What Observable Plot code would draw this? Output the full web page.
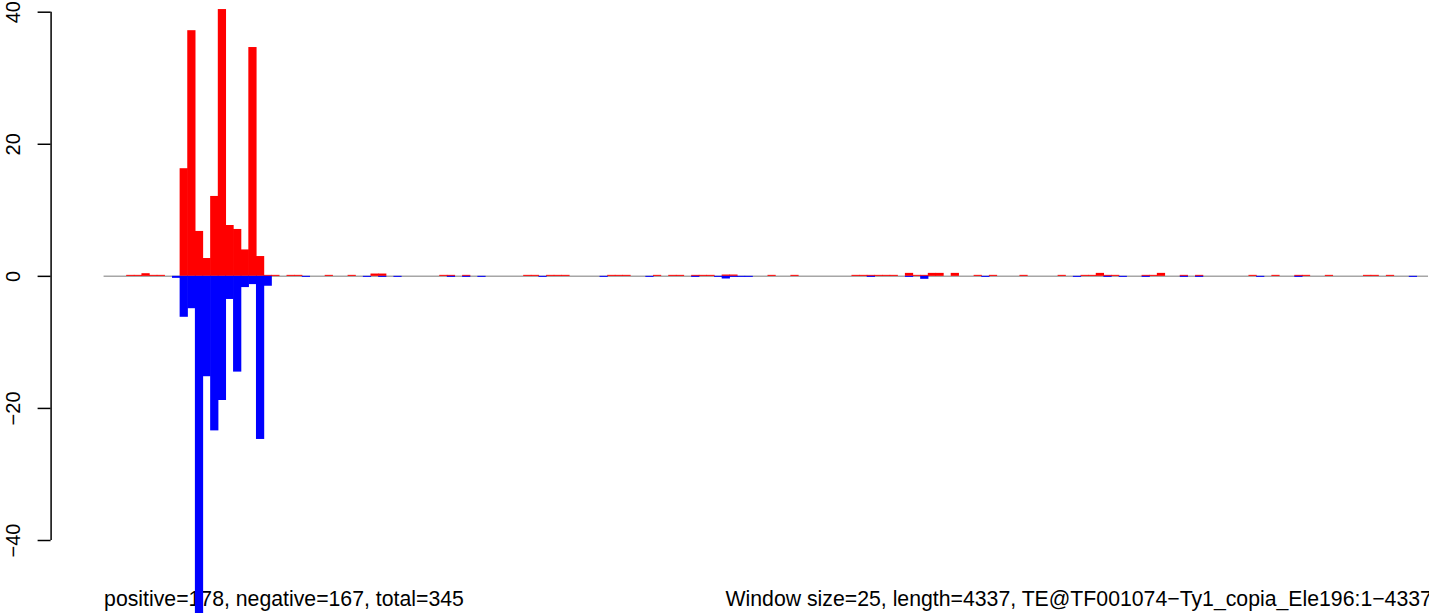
<!DOCTYPE html>
<html>
<head>
<meta charset="utf-8">
<script src="https://cdn.jsdelivr.net/npm/d3@7"></script>
<script src="https://cdn.jsdelivr.net/npm/@observablehq/plot@0.6"></script>
<style>
  html, body { margin: 0; padding: 0; background: white; overflow: hidden; }
  #chart svg { display: block; }
</style>
</head>
<body>
<div id="chart"></div>
<script>
// Window size and sequence length
const windowSize = 25;
const seqLength = 4337;

// Positive-strand windows (index) and values (red)
const posWindows = [3,4,5,6,7,10,11,12,13,14,15,16,17,18,19,20,21,22,24,25,29,32,35,36,44,45,47,55,56,58,59,60,66,67,68,72,74,75,77,78,79,81,82,87,90,98,99,100,101,102,103,105,106,107,108,109,111,114,116,120,125,128,129,130,131,132,136,137,138,141,143,150,153,156,157,160,165,166,168];
const posValues  = [0.15,0.15,0.4,0.15,0.15,16.3,37.2,6.8,2.7,12.1,40.4,7.7,7.1,4.0,34.65,3.0,0.15,0.15,0.15,0.15,0.15,0.15,0.35,0.35,0.15,0.15,0.15,0.15,0.15,0.15,0.15,0.15,0.15,0.15,0.15,0.15,0.15,0.15,0.15,0.15,0.15,0.2,0.2,0.15,0.15,0.15,0.15,0.15,0.15,0.15,0.15,0.45,0.15,0.15,0.45,0.45,0.45,0.15,0.15,0.15,0.15,0.15,0.15,0.45,0.15,0.15,0.15,0.15,0.45,0.15,0.15,0.15,0.15,0.15,0.15,0.15,0.15,0.15,0.15];

// Negative-strand windows (index) and values (blue)
const negWindows = [9,10,11,12,13,14,15,16,17,18,19,20,21,26,34,36,38,45,47,49,57,65,71,77,80,81,82,83,84,100,105,107,115,127,131,133,136,141,143,151,156,171];
const negValues  = [-0.3,-6.2,-4.9,-55,-15.2,-23.4,-18.8,-3.5,-14.5,-1.7,-1.25,-24.7,-1.5,-0.15,-0.15,-0.15,-0.15,-0.15,-0.15,-0.15,-0.15,-0.15,-0.15,-0.15,-0.15,-0.4,-0.15,-0.15,-0.15,-0.15,-0.15,-0.45,-0.15,-0.15,-0.15,-0.15,-0.15,-0.15,-0.15,-0.15,-0.15,-0.15];

// Y tick labels
const yTicks = [-40, -20, 0, 20, 40];

// Captions
const captionLeft = "positive=178, negative=167, total=345";
const captionRight = "Window size=25, length=4337, TE@TF001074\u2212Ty1_copia_Ele196:1\u22124337";

const pos = posWindows.map((w, i) => ({start: w * windowSize, end: (w + 1) * windowSize, value: posValues[i]}));
const neg = negWindows.map((w, i) => ({start: w * windowSize, end: (w + 1) * windowSize, value: negValues[i]}));

// R-style 4% axis extension
const ext = seqLength * 0.04;

const chart = Plot.plot({
  width: 1429,
  height: 613,
  marginLeft: 50.6,
  marginRight: 0,
  marginTop: 0,
  marginBottom: 0,
  style: {fontFamily: "'Liberation Sans', Arial, Helvetica, sans-serif", background: "white", color: "black"},
  x: {domain: [-ext, seqLength + ext], range: [50.6, 1481], axis: null},
  y: {domain: [-40, 40], range: [540, 11.7], axis: null},
  marks: [
    Plot.text([captionLeft], {x: 0, frameAnchor: "bottom", dy: -7.5, textAnchor: "start", lineAnchor: "bottom", fontSize: 21.25, fill: "black"}),
    Plot.text([captionRight], {frameAnchor: "bottom-left", dx: 674.4, dy: -7.5, textAnchor: "start", lineAnchor: "bottom", fontSize: 21.25, fill: "black"}),
    Plot.ruleY([0], {x1: 0, x2: seqLength, stroke: "#a6a6a6", strokeWidth: 1.5}),
    Plot.rect(pos, {x1: "start", x2: "end", y1: 0, y2: "value", fill: "#ff0000", insetLeft: -0.3, insetRight: -0.3, clip: true}),
    Plot.rect(neg, {x1: "start", x2: "end", y1: 0, y2: "value", fill: "#0000ff", insetLeft: -0.3, insetRight: -0.3, clip: true}),
    Plot.ruleX([-ext], {y1: -40, y2: 40, stroke: "black", strokeWidth: 1.5}),
    Plot.axisY(yTicks, {
      anchor: "left",
      label: null,
      tickSize: 13,
      tickPadding: 18,
      tickRotate: -90,
      fontSize: 20,
      strokeWidth: 1.5,
      tickFormat: d => d < 0 ? "\u2212" + Math.abs(d) : String(d)
    })
  ]
});

document.getElementById("chart").append(chart);
</script>
</body>
</html>
